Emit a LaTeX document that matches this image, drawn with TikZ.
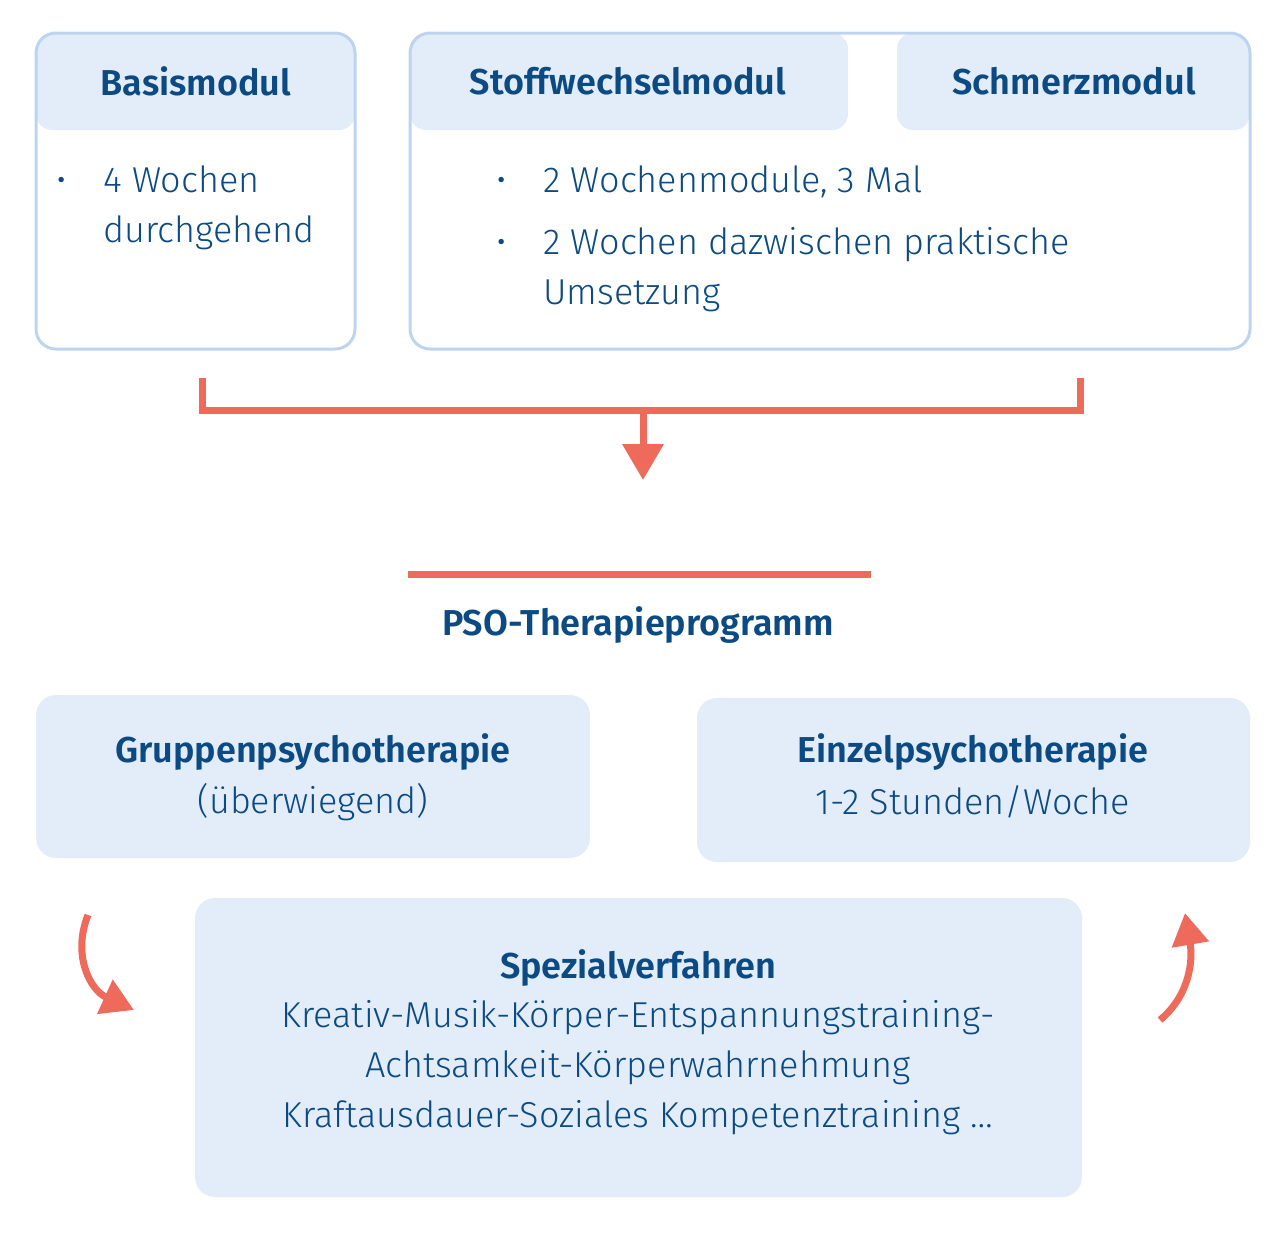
\documentclass[tikz,border=0pt]{standalone}
\usepackage{fontspec}
\setmainfont{Fira Sans}[UprightFont=* Light,BoldFont=* SemiBold]
\usetikzlibrary{arrows.meta}
\definecolor{tb}{HTML}{0B4A82}
\definecolor{lf}{HTML}{E3EDF9}
\definecolor{bd}{HTML}{BDD4F0}
\definecolor{rd}{HTML}{EE6A5A}
\begin{document}
\begin{tikzpicture}[x=0.5pt,y=-0.5pt,
  txt/.style={text=tb,font=\fontsize{18}{22}\selectfont,inner sep=0pt},
  hd/.style={txt,font=\fontsize{18}{22}\selectfont\bfseries},
  rl/.style={draw=rd,line width=3.5pt},
  bul/.style={txt,anchor=base west}]
\useasboundingbox (0,0) rectangle (1287,1239);
% top boxes
\fill[lf,rounded corners=8pt] (36,33) rectangle (355,130);
\fill[lf,rounded corners=8pt] (410,33) rectangle (848,130);
\fill[lf,rounded corners=8pt] (897,33) rectangle (1250,130);
\draw[bd,line width=1.5pt,rounded corners=10pt] (36,33) rectangle (355,349);
\draw[bd,line width=1.5pt,rounded corners=10pt] (410,33) rectangle (1250,349);
\node[hd] (basis) at (196,81) {Basismodul};
\node[hd] (stoff) at (628,81) {Stoffwechselmodul};
\node[hd] (schm) at (1074,81) {Schmerzmodul};
\node[bul] (b1) at (56,192) {•};
\node[bul] (t1) at (103,192) {4 Wochen};
\node[bul] (t2) at (103,242) {durchgehend};
\node[bul] (b2) at (496,192) {•};
\node[bul] (t3) at (543,192) {2 Wochenmodule, 3 Mal};
\node[bul] (b3) at (496,254) {•};
\node[bul] (t4) at (543,254) {2 Wochen dazwischen praktische};
\node[bul] (t5) at (543,304) {Umsetzung};
% bracket
\coordinate (l1) at (202,378); \coordinate (r1) at (1080,378);
\coordinate (m1) at (643,410); \coordinate (m2) at (643,480);
\draw[rl] (l1) -- (202,410) -- (1080,410) -- (r1);
\draw[rl,-{Triangle[width=20pt,length=18pt]}] (m1) -- (m2);
\coordinate (h1) at (408,574); \coordinate (h2) at (871,574);
\draw[rl] (h1) -- (h2);
\node[hd] (pso) at (638,625) {PSO-Therapieprogramm};
% lower boxes
\fill[lf,rounded corners=10pt] (36,695) rectangle (590,858);
\fill[lf,rounded corners=10pt] (697,698) rectangle (1250,862);
\fill[lf,rounded corners=10pt] (195,898) rectangle (1082,1197);
\node[hd] (g) at (313,752) {Gruppenpsychotherapie};
\node[txt] (g2) at (313,802) {(überwiegend)};
\node[hd] (e) at (973,752) {Einzelpsychotherapie};
\node[txt] (e2) at (973,802) {1-2 Stunden/Woche};
\node[hd] (s) at (638,968) {Spezialverfahren};
\node[txt] (s1) at (638,1018) {Kreativ-Musik-Körper-Entspannungstraining-};
\node[txt] (s2) at (638,1068) {Achtsamkeit-Körperwahrnehmung};
\node[txt] (s3) at (638,1118) {Kraftausdauer-Soziales Kompetenztraining …};
% curved arrows
\coordinate (a1) at (88,915); \coordinate (a2) at (134,1010);
\draw[rl,-{Triangle[width=18pt,length=16pt]}] (a1) .. controls (72,955) and (90,990) .. (a2);
\coordinate (c1) at (1160,1020); \coordinate (c2) at (1185,913);
\draw[rl,-{Triangle[width=18pt,length=16pt]}] (c1) .. controls (1190,995) and (1193,960) .. (c2);
\end{tikzpicture}
\end{document}
